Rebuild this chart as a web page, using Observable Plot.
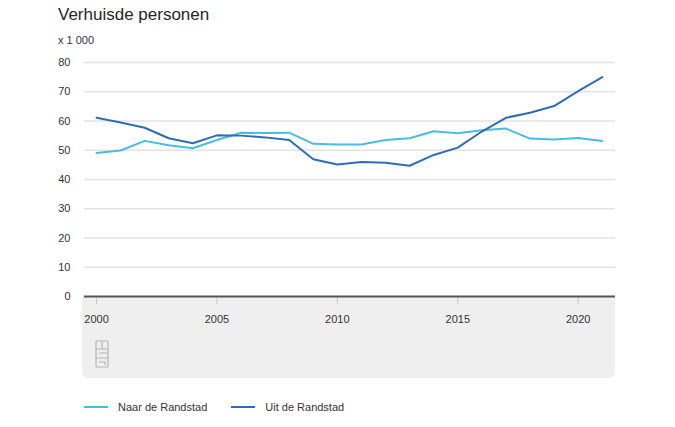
<!DOCTYPE html>
<html>
<head>
<meta charset="utf-8">
<script src="https://cdn.jsdelivr.net/npm/d3@7"></script>
<script src="https://cdn.jsdelivr.net/npm/@observablehq/plot@0.6"></script>
<style>
  body { margin: 0; background: #fff; font-family: "Liberation Sans", Arial, sans-serif; }
  #wrap { position: relative; width: 675px; height: 427px; overflow: hidden; }
  #title { position: absolute; left: 58px; top: 5px; font-size: 17px; color: #262626; line-height: 20px; }
  #unit { position: absolute; left: 58px; top: 33px; font-size: 11px; color: #333; line-height: 14px; }
  #box { position: absolute; left: 82px; top: 296px; width: 533px; height: 82px; background: #efefef; border-radius: 0 0 6px 6px; }
  #chart { position: absolute; left: 0; top: 50px; }
  #logo { position: absolute; left: 95px; top: 340px; }
  #legend { position: absolute; left: 84px; top: 401px; font-size: 11px; color: #333; display: flex; align-items: center; }
  .item { display: flex; align-items: center; margin-right: 24px; }
  .sw { width: 24px; height: 0; border-top: 2.5px solid; margin-right: 10px; }
</style>
</head>
<body>
<div id="wrap">
  <div id="title">Verhuisde personen</div>
  <div id="unit">x 1 000</div>
  <div id="box"></div>
  <div id="chart"></div>
  <svg id="logo" width="14" height="28" viewBox="0 0 14 28">
    <g fill="none" stroke="#b5b5b5" stroke-width="1.2">
      <rect x="1" y="1" width="12" height="26" rx="1"/>
      <path d="M1 9 H13 M1 18 H13 M7 1 V9 M4 13 H13 M4 22 H10 V25"/>
    </g>
  </svg>
  <div id="legend"></div>
</div>
<script>
const years = [2000,2001,2002,2003,2004,2005,2006,2007,2008,2009,2010,2011,2012,2013,2014,2015,2016,2017,2018,2019,2020,2021];
const naar = [49.1,49.9,53.2,51.7,50.7,53.5,56.0,55.9,56.0,52.2,52.0,52.0,53.5,54.1,56.5,55.8,56.8,57.4,54.0,53.7,54.2,53.2];
const uit  = [61.1,59.5,57.7,54.1,52.4,55.1,55.0,54.4,53.5,46.9,45.1,46.0,45.7,44.7,48.4,50.9,56.4,61.1,62.8,65.1,70.2,75.0];
const seriesNames = ["Naar de Randstad", "Uit de Randstad"];
const seriesColors = ["#48bde0", "#2e6db6"];
const yTicks = [0,10,20,30,40,50,60,70,80];
const xTicks = [2000,2005,2010,2015,2020];

const data = [];
years.forEach((y, i) => {
  data.push({year: y, value: naar[i], series: seriesNames[0]});
  data.push({year: y, value: uit[i], series: seriesNames[1]});
});

const chart = Plot.plot({
  width: 675,
  height: 335,
  marginLeft: 84,
  marginRight: 60,
  marginTop: 12,
  marginBottom: 89,
  style: { background: "transparent", fontFamily: "Liberation Sans, Arial, sans-serif" },
  x: { domain: [1999.5, 2021.55] },
  y: { domain: [0, 80] },
  color: { domain: seriesNames, range: seriesColors },
  marks: [
    Plot.gridY(yTicks.filter(d => d > 0), { stroke: "#e3e3e3", strokeOpacity: 1, strokeWidth: 1.5 }),
    Plot.axisY(yTicks, { tickSize: 0, tickPadding: 14, fontSize: 11, fill: "#333", label: null }),
    Plot.axisX(xTicks, { tickSize: 8, tickPadding: 11, stroke: "#c8c8c8", fontSize: 11, fill: "#333", tickFormat: d => String(d), label: null }),
    Plot.ruleY([0], { stroke: "#555", strokeWidth: 2 }),
    Plot.line(data, { x: "year", y: "value", z: "series", stroke: "series", strokeWidth: 2, curve: "linear" })
  ]
});
document.getElementById("chart").appendChild(chart);

const legend = document.getElementById("legend");
seriesNames.forEach((n, i) => {
  const it = document.createElement("div");
  it.className = "item";
  const sw = document.createElement("div");
  sw.className = "sw";
  sw.style.borderTopColor = seriesColors[i];
  const t = document.createElement("span");
  t.textContent = n;
  it.appendChild(sw); it.appendChild(t);
  legend.appendChild(it);
});
</script>
</body>
</html>
